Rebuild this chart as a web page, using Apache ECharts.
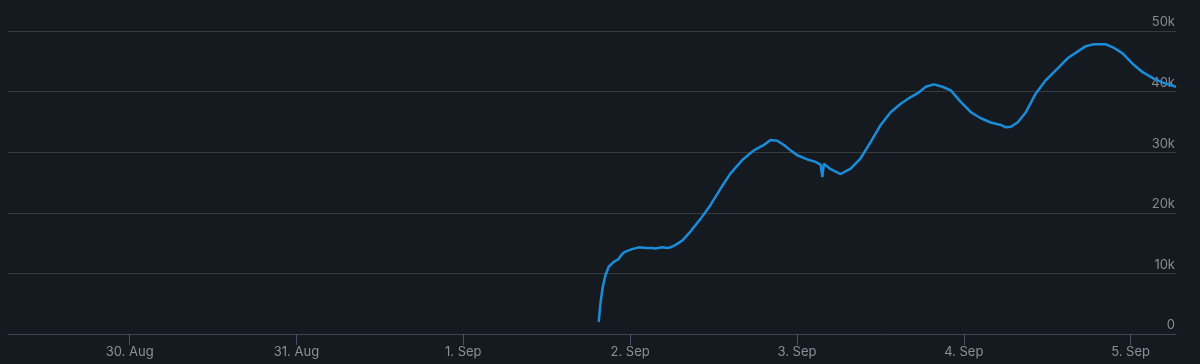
<!DOCTYPE html>
<html>
<head>
<meta charset="utf-8">
<script src="https://cdn.jsdelivr.net/npm/echarts@6/dist/echarts.min.js"></script>
<style>
html,body{margin:0;padding:0;background:#151a21;}
#chart{width:1200px;height:364px;}
</style>
</head>
<body>
<div id="chart"></div>
<script>
const times = [
'2023-09-01 19:29','2023-09-01 19:44','2023-09-01 20:04','2023-09-01 20:27','2023-09-01 20:55',
'2023-09-01 21:39','2023-09-01 22:17','2023-09-01 22:51','2023-09-01 23:20','2023-09-02 00:17',
'2023-09-02 01:15','2023-09-02 02:13','2023-09-02 03:10','2023-09-02 03:39','2023-09-02 04:37',
'2023-09-02 05:20','2023-09-02 05:49','2023-09-02 06:32','2023-09-02 07:30','2023-09-02 08:27',
'2023-09-02 09:25','2023-09-02 10:08','2023-09-02 11:34','2023-09-02 13:01','2023-09-02 14:27',
'2023-09-02 16:08','2023-09-02 17:48','2023-09-02 19:15','2023-09-02 20:12','2023-09-02 21:10',
'2023-09-02 22:07','2023-09-02 23:05','2023-09-03 00:03','2023-09-03 01:30','2023-09-03 02:41',
'2023-09-03 03:25','2023-09-03 03:39','2023-09-03 03:53','2023-09-03 04:51','2023-09-03 06:17',
'2023-09-03 07:44','2023-09-03 09:10','2023-09-03 10:37','2023-09-03 12:03','2023-09-03 13:29',
'2023-09-03 14:56','2023-09-03 16:22','2023-09-03 17:20','2023-09-03 18:32','2023-09-03 19:43',
'2023-09-03 20:56','2023-09-03 22:08','2023-09-03 23:34','2023-09-04 01:01','2023-09-04 02:27',
'2023-09-04 03:53','2023-09-04 05:20','2023-09-04 06:03','2023-09-04 06:46','2023-09-04 07:44',
'2023-09-04 08:56','2023-09-04 10:22','2023-09-04 11:49','2023-09-04 13:29','2023-09-04 14:56',
'2023-09-04 16:22','2023-09-04 17:34','2023-09-04 18:46','2023-09-04 20:27','2023-09-04 21:38',
'2023-09-04 22:51','2023-09-05 00:17','2023-09-05 01:44','2023-09-05 03:24','2023-09-05 04:50',
'2023-09-05 06:32'
];
const players = [
2000,5100,7800,9700,11100,
11900,12300,13200,13600,14000,
14300,14200,14200,14100,14300,
14200,14300,14700,15400,16600,
18000,19000,21300,24000,26500,
28700,30300,31200,32000,31900,
31200,30300,29500,28800,28400,
27900,25900,28100,27200,26400,
27300,29000,31700,34500,36600,
38000,39100,39700,40800,41200,
40800,40200,38300,36600,35600,
34900,34500,34100,34200,34900,
36600,39700,41900,43800,45500,
46600,47500,47800,47800,47200,
46300,44600,43200,42100,41400,
40800
];
const axisStart = '2023-08-29 06:30';
const axisEnd = '2023-09-05 06:32';
const yTicks = [0, 10000, 20000, 30000, 40000, 50000];

const toMs = s => new Date(s.replace(' ', 'T') + ':00Z').getTime();
const seriesData = times.map((t, i) => [toMs(t), players[i]]);

const chart = echarts.init(document.getElementById('chart'), null, {renderer: 'canvas'});
chart.setOption({
  backgroundColor: '#151a21',
  animation: false,
  useUTC: true,
  grid: {left: 8, right: 24, top: 31, bottom: 30, containLabel: false},
  xAxis: {
    type: 'time',
    min: toMs(axisStart),
    max: toMs(axisEnd),
    minInterval: 86400000,
    maxInterval: 86400000,
    splitLine: {show: false},
    axisLine: {lineStyle: {color: '#3d4555', width: 1}},
    axisTick: {show: true, length: 11, lineStyle: {color: '#4b5261'}},
    axisLabel: {
      formatter: '{d}. {MMM}',
      color: '#8a9099',
      fontFamily: 'Inter, "Noto Sans", sans-serif',
      fontSize: 13,
      margin: 12,
      showMinLabel: false,
      showMaxLabel: false
    }
  },
  yAxis: {
    type: 'value',
    position: 'right',
    min: yTicks[0],
    max: yTicks[yTicks.length - 1],
    interval: 10000,
    axisLine: {show: false},
    axisTick: {show: false},
    splitLine: {lineStyle: {color: '#363a41', width: 1}},
    axisLabel: {
      inside: true,
      margin: 1,
      verticalAlign: 'bottom',
      padding: [0, 0, 2, 0],
      color: '#858b94',
      fontFamily: 'Inter, "Noto Sans", sans-serif',
      fontSize: 13,
      formatter: v => v === 0 ? '0' : (v / 1000) + 'k'
    }
  },
  series: [{
    type: 'line',
    data: seriesData,
    showSymbol: false,
    smooth: false,
    lineStyle: {color: '#1b8dd8', width: 2.5},
    itemStyle: {color: '#1b8dd8'},
    z: 1
  }]
});
</script>
</body>
</html>
